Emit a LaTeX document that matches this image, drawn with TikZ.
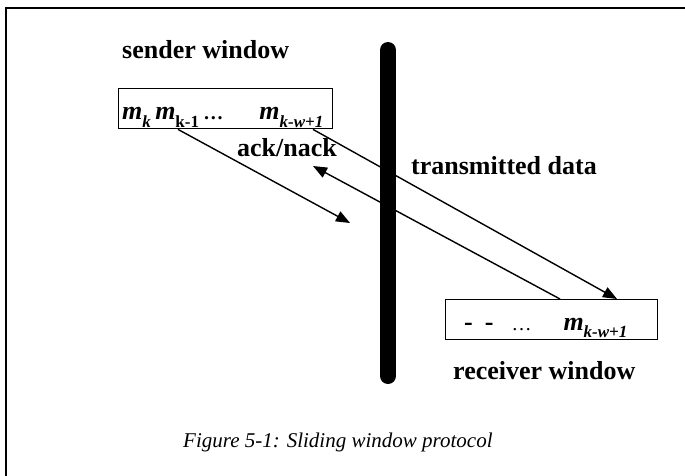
\documentclass[tikz,border=0pt]{standalone}
\usepackage{fontspec}
\setmainfont{Liberation Serif}
\usetikzlibrary{arrows.meta, positioning}
\newcommand{\msym}[1]{\textbf{\textit{m}}\raisebox{-0.28em}{\fontsize{17}{17}\selectfont\textbf{#1}}}
\tikzset{
    winbox/.style={rectangle, draw, line width=1.4pt, inner sep=0pt, anchor=north west,
                   minimum width=214pt, minimum height=40pt},
    wintext/.style={anchor=base west, inner sep=0pt, font=\fontsize{26}{28}\selectfont},
    lbl/.style={anchor=base west, inner sep=0pt, font=\fontsize{26}{28}\bfseries},
    caption/.style={anchor=base west, inner sep=0pt, font=\fontsize{21}{24}\itshape},
    arrow/.style={-{Triangle[length=14pt, width=11pt]}, line width=1.4pt},
}
\begin{document}
\begin{tikzpicture}[x=1pt, y=-1pt]
    \useasboundingbox (0,0) rectangle (685,476);
    \draw[line width=2.5pt] (6,476) -- (6,8) -- (685,8);

    % link between the two sides
    \draw[line width=16pt, line cap=round] (388,50) coordinate (linktop) -- (388,376) coordinate (linkbot);

    \node[winbox] (sbox) at (118,88) {};
    \node[wintext] (stext) at (122,120)
        {\msym{\textit{k}}\,\msym{k-1}\,\textbf{\fontsize{20}{20}\selectfont\ldots}\hspace{36pt}\msym{\textit{k-w+1}}};
    \node[winbox, minimum width=212pt] (rbox) at (445,299) {};
    \node[wintext] (rtext) at (464,330)
        {\textbf{-}\hspace{12pt}\textbf{-}\hspace{18pt}{\fontsize{20}{20}\selectfont\ldots}\hspace{32pt}\msym{\textit{k-w+1}}};

    \node[lbl] (sender) at (122,59) {sender window};
    \node[lbl] (ack) at (237,157) {ack/nack};
    \node[lbl] (data) at (411,174) {transmitted data};
    \node[lbl] (receiver) at (453,379) {receiver window};
    \node[caption] (fig) at (183,447) {Figure 5-1: Sliding window protocol};

    \coordinate (sendend) at (350,223);
    \coordinate (ackend) at (313,166);
    \draw[arrow] ([xshift=60pt]sbox.south west) -- (sendend);
    \draw[arrow] ([xshift=195pt]sbox.south west) -- ([xshift=172pt]rbox.north west);
    \draw[arrow] ([xshift=115pt]rbox.north west) -- (ackend);
\end{tikzpicture}
\end{document}
